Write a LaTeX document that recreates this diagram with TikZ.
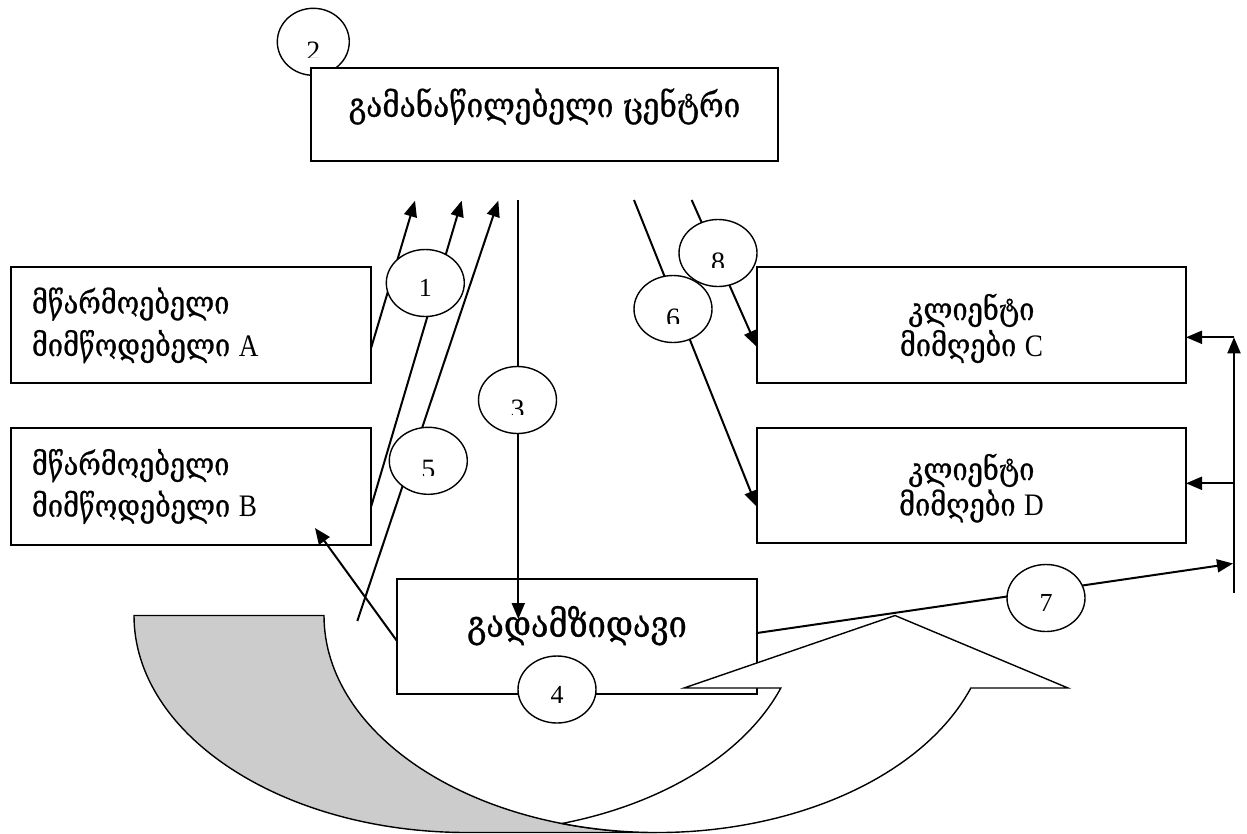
\documentclass[tikz,border=0pt]{standalone}
\usepackage{fontspec}
\usepackage{graphicx}
\setmainfont{Liberation Serif}
\newfontfamily\geo[FakeBold=0.8]{DejaVu Serif}
\newcommand\gtall[1]{\scalebox{1}[1.15]{#1}}
\usetikzlibrary{shapes.geometric,arrows.meta,calc}

\tikzset{
  box/.style={draw, line width=1.6pt, fill=white, inner sep=0pt},
  tag/.style={draw, ellipse, line width=1.4pt, fill=white, inner sep=0pt,
              minimum width=78pt, minimum height=67pt},
  digit/.style={inner sep=0pt, anchor=base, font=\fontsize{26}{26}\selectfont},
  bigdigit/.style={inner sep=0pt, anchor=base, font=\fontsize{28}{28}\selectfont},
  gtxt/.style={inner sep=0pt, font=\geo\fontsize{27.2}{30}\selectfont},
  link/.style={line width=2pt},
  arr/.style={link, -{Triangle[length=16pt,width=13pt]}},
  band/.style={draw, line width=1.4pt},
}

\begin{document}
\begin{tikzpicture}[x=1pt,y=-1pt]
\useasboundingbox (0,0) rectangle (1247,833);
\fill[white] (0,0) rectangle (1247,833);

% distribution centre with its number tag behind it
\node[tag, minimum width=72pt] (c2) at (313.3,41.8) {};
\begin{scope}
  \clip ($(c2.center)+(-30,-30)$) rectangle ($(c2.center)+(30,16)$);
  \node[bigdigit] (n2) at ($(c2.center)+(0,19)$) {2};
\end{scope}
\node[box, minimum width=467pt, minimum height=93pt] (dc) at (544.5,114.5) {};
\node[gtxt, anchor=base, font=\geo\fontsize{29.7}{30}\selectfont] (dc-t) at (544.5,117) {\gtall{გამანაწილებელი ცენტრი}};

% producers / suppliers
\node[box, minimum width=360pt, minimum height=116pt] (pA) at (191,325) {};
\node[gtxt, anchor=base west] (pA-1) at (31.7,313.5) {\gtall{მწარმოებელი}};
\node[gtxt, anchor=base west] (pA-2) at (31.7,356) {\gtall{მიმწოდებელი {\rmfamily A}}};
\node[box, minimum width=360pt, minimum height=117pt] (pB) at (191,486.5) {};
\node[gtxt, anchor=base west] (pB-1) at (31.7,475) {\gtall{მწარმოებელი}};
\node[gtxt, anchor=base west] (pB-2) at (31.7,516.7) {\gtall{მიმწოდებელი {\rmfamily B}}};

% clients / receivers
\node[box, minimum width=429pt, minimum height=116pt] (rC) at (971.5,325) {};
\node[gtxt, anchor=base] (rC-1) at (971.5,320) {\gtall{კლიენტი}};
\node[gtxt, anchor=base] (rC-2) at (971.5,356) {\gtall{მიმღები {\rmfamily C}}};
\node[box, minimum width=429pt, minimum height=115pt] (rD) at (971.5,485.5) {};
\node[gtxt, anchor=base] (rD-1) at (971.5,480) {\gtall{კლიენტი}};
\node[gtxt, anchor=base] (rD-2) at (971.5,515.5) {\gtall{მიმღები {\rmfamily D}}};

% carrier
\node[box, minimum width=360pt, minimum height=115pt] (cr) at (577,636.5) {};
\node[gtxt, anchor=base, font=\geo\fontsize{32.5}{33}\selectfont] (cr-t) at (577,637) {\gtall{გადამზიდავი}};

% end points of the flows
\coordinate (aOut) at (371,348.3);
\coordinate (bOut) at (371,507);
\coordinate (tA) at (415,200.7);
\coordinate (tB) at (461.7,200.7);
\coordinate (tR) at (498.3,200.7);
\coordinate (rtn) at (357.3,621);
\coordinate (dwn) at (518.3,200);
\coordinate (dwnEnd) at (518.3,619);
\coordinate (s6) at (634,200);
\coordinate (s8) at (691.7,200);
\coordinate (inC) at (756.7,346.7);
\coordinate (inD) at (756.7,506.7);
\coordinate (crL) at (397,641);
\coordinate (inB) at (315,528);
\coordinate (crR) at (757,633);
\coordinate (bus) at (1233,563.5);
\coordinate (busLow) at (1234,593);
\coordinate (busTop) at (1234,337.3);
\coordinate (busD) at (1234,483.3);
\coordinate (rCin) at (1186,337.3);
\coordinate (rDin) at (1186,483.3);

\draw[arr] (aOut) -- (tA);
\draw[arr] (bOut) -- (tB);
\draw[arr] (rtn) -- (tR);
\draw[arr] (dwn) -- (dwnEnd);
\draw[arr] (s6) -- (inD);
\draw[arr] (s8) -- (inC);
\draw[arr] (crL) -- (inB);
\draw[arr] (crR) -- (bus);
\draw[arr] (busLow) -- (busTop);
\draw[arr] (busTop) -- (rCin);
\draw[arr] (busD) -- (rDin);

% curved return arrow: shaded back part and white front part
\fill[black!20] (134,615.5)
  arc[start angle=180, end angle=270, x radius=333pt, y radius=217pt]
  -- (657,832.5)
  arc[start angle=270, end angle=180, x radius=333pt, y radius=217pt] -- cycle;
\draw[band] (134,615.5)
  arc[start angle=180, end angle=270, x radius=333pt, y radius=217pt]
  -- (657,832.5)
  arc[start angle=270, end angle=180, x radius=333pt, y radius=217pt] -- cycle;
\filldraw[band, fill=white] (895,615.5) -- (1068,688)
  -- ($(657,615.5)+(-19.52:333pt and 217pt)$)
  arc[start angle=-19.52, end angle=-106.58, x radius=333pt, y radius=217pt]
  arc[start angle=-73.42, end angle=-19.52, x radius=333pt, y radius=217pt]
  -- (684,688) -- cycle;

% number tags on the flows
\node[tag] (c1) at (425.3,283) {};
\node[digit] (n1) at ($(c1.center)+(0,13.7)$) {1};
\node[tag] (c3) at (517.5,400) {};
\node[tag] (c5) at (428.3,460.8) {};
\node[tag] (c6) at (673,309) {};
\node[tag] (c8) at (718,253) {};
\node[tag] (c4) at (557,689.5) {};
\node[digit] (n4) at ($(c4.center)+(0,13.8)$) {4};
\node[tag] (c7) at (1046,598) {};
\node[digit] (n7) at ($(c7.center)+(0,13)$) {7};
\foreach \c/\d in {c3/3, c5/5, c6/6, c8/8}{
  \begin{scope}
    \clip ($(\c.center)+(-30,-30)$) rectangle ($(\c.center)+(30,14.5)$);
    \node[bigdigit] (n\d) at ($(\c.center)+(0,18)$) {\d};
  \end{scope}
}
\end{tikzpicture}
\end{document}
